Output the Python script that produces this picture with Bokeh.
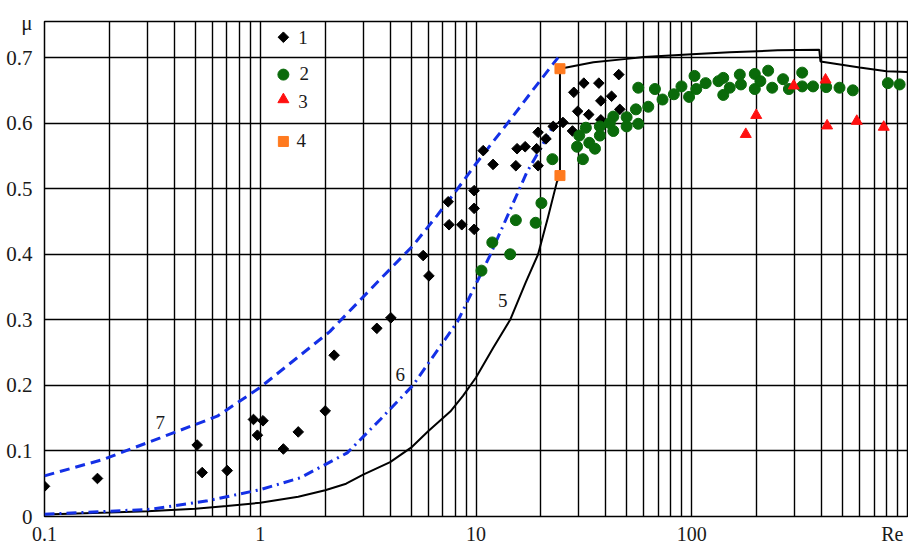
import numpy as np
from bokeh.plotting import figure
from bokeh.models import FixedTicker, NumeralTickFormatter
from bokeh.core.properties import value
from bokeh.embed import file_html
from bokeh.resources import INLINE

# ---------------- data ----------------
# series 1 (black diamonds)
s1_x = [0.1, 0.176, 0.51, 0.538, 0.703, 0.93, 1.03, 0.97, 1.28, 1.5, 2.0,
        2.2, 3.47, 4.03, 5.69, 6.05, 7.43, 7.5, 8.59, 9.8, 9.8, 9.8,
        10.8, 12.0, 15.5, 16.9, 19.1, 15.3, 19.4, 19.4, 21.1, 22.8, 25.3,
        28.0, 28.4, 31.6, 29.6, 33.3, 37.1, 45.9, 42.5, 37.9, 37.9, 46.4]
s1_y = [0.046, 0.058, 0.109, 0.067, 0.070, 0.148, 0.146, 0.124, 0.103, 0.129, 0.161,
        0.246, 0.287, 0.303, 0.398, 0.367, 0.480, 0.445, 0.445, 0.497, 0.470, 0.438,
        0.558, 0.537, 0.561, 0.564, 0.561, 0.535, 0.535, 0.586, 0.576, 0.595, 0.601,
        0.588, 0.647, 0.661, 0.618, 0.613, 0.661, 0.674, 0.641, 0.634, 0.605, 0.621]

# series 2 (green circles)
s2_x = [22.6, 31.3, 20.1, 15.3, 18.9, 11.9, 14.4, 10.6,
        29.4, 33.5, 35.6, 30.1, 32.3, 37.5, 37.5, 43.3, 43.3, 41.7, 49.9, 49.9,
        55.1, 56.5, 62.9, 56.5, 67.5, 73.2, 82.6, 89.6, 97.2, 105, 103, 116,
        133, 140, 140, 150, 167, 169, 196, 196, 208, 226, 236, 265, 282,
        325, 325, 365, 420, 484, 558, 811, 919]
s2_y = [0.545, 0.545, 0.478, 0.452, 0.448, 0.418, 0.400, 0.375,
        0.564, 0.570, 0.561, 0.581, 0.593, 0.581, 0.595, 0.588, 0.610, 0.600, 0.595, 0.609,
        0.621, 0.599, 0.625, 0.654, 0.652, 0.636, 0.644, 0.656, 0.640, 0.652, 0.672, 0.661,
        0.664, 0.669, 0.643, 0.654, 0.674, 0.659, 0.675, 0.652, 0.664, 0.680, 0.654, 0.667, 0.652,
        0.677, 0.656, 0.656, 0.655, 0.654, 0.650, 0.661, 0.659]

# series 3 (red triangles)
s3_x = [178, 199, 297, 417, 424, 582, 776]
s3_y = [0.583, 0.612, 0.657, 0.666, 0.596, 0.603, 0.594]

# series 4 (orange squares)
s4_x = [24.5, 24.5]
s4_y = [0.683, 0.520]

# curve 5 (black solid)
c5_x = [0.1, 0.2, 0.3, 0.5, 0.7, 1.0, 1.5, 2.0, 2.5, 3.0, 4.0, 5.0, 6.0, 7.6, 8.7,
        10.0, 12.0, 14.4, 17.0, 19.4, 21.5, 23.7, 24.5,
        24.5, 35, 50, 60, 100, 150, 250, 390, 395, 600, 800, 1000]
c5_y = [0.003, 0.006, 0.008, 0.012, 0.016, 0.021, 0.030, 0.040, 0.050, 0.064, 0.083, 0.105, 0.130, 0.160, 0.184,
        0.212, 0.257, 0.300, 0.357, 0.400, 0.455, 0.510, 0.520,
        0.683, 0.693, 0.698, 0.701, 0.705, 0.708, 0.711, 0.712, 0.694, 0.685, 0.679, 0.678]

# curve 6 (blue dash-dot)
c6_x = [0.1, 0.31, 0.57, 1.0, 1.53, 2.53, 3.6, 5.1, 8.2, 11.6, 17.2, 19.8, 22.7]
c6_y = [0.0035, 0.011, 0.024, 0.041, 0.059, 0.097, 0.148, 0.200, 0.297, 0.398, 0.525, 0.560, 0.595]

# curve 7 (blue dashed)
c7_x = [0.1, 0.187, 0.344, 0.632, 1.0, 2.1, 3.7, 5.1, 6.6, 8.1, 10.1, 14.8, 18.4, 24.0]
c7_y = [0.062, 0.087, 0.120, 0.153, 0.197, 0.282, 0.366, 0.413, 0.459, 0.497, 0.540, 0.610, 0.651, 0.700]

# curve labels
curve_lbl_x = [13.3, 4.45, 0.344]
curve_lbl_y = [0.329, 0.217, 0.143]
curve_lbl_t = ["5", "6", "7"]

# legend
leg_marker_x = 1.28
leg_marker_y = [0.731, 0.674, 0.636, 0.572]
leg_text_x = [1.58, 1.60, 1.58, 1.55]
leg_text_y = [0.731, 0.675, 0.633, 0.574]
leg_text = ["1", "2", "3", "4"]

# axes: tick values and labels (axis names sit on the axes' label rows)
x_tick_vals = [0.1, 1, 10, 100, 851]
x_tick_text = ["0.1", "1", "10", "100", "Re"]
y_tick_vals = [0, 0.1, 0.2, 0.3, 0.4, 0.5, 0.6, 0.7, 0.752]
y_tick_text = ["0", "0.1", "0.2", "0.3", "0.4", "0.5", "0.6", "0.7", "μ"]
x_grid = [m * 10.0 ** e for e in (-1, 0, 1, 2) for m in range(1, 10)] + [1000]
y_grid = [0.1, 0.2, 0.3, 0.4, 0.5, 0.6, 0.7]

BLUE = "#1430e6"
GREEN = "#0a6a0a"
RED = "#ff1010"
ORANGE = "#ff7a1f"
FONT = "Liberation Serif"
TXT = "#1a1a1a"
W, H = 908, 547

# ---------------- figure ----------------
p = figure(width=W, height=H, x_axis_type="log", x_range=(0.1, 1000), y_range=(0, 0.755),
           output_backend="svg", toolbar_location=None,
           min_border_left=44, min_border_right=1, min_border_top=21, min_border_bottom=28)
p.background_fill_color = "white"
p.border_fill_color = "white"
p.outline_line_color = "black"
p.outline_line_width = 1.5

p.xaxis.ticker = FixedTicker(ticks=x_tick_vals)
p.yaxis.ticker = FixedTicker(ticks=y_tick_vals)
p.xaxis.formatter = NumeralTickFormatter(format="0.[0]")
p.yaxis.formatter = NumeralTickFormatter(format="0.[0]")
p.xaxis.major_label_overrides = dict(zip(x_tick_vals, x_tick_text))
p.yaxis.major_label_overrides = dict(zip(y_tick_vals, y_tick_text))

for ax in (p.xaxis[0], p.yaxis[0]):
    ax.axis_line_color = None
    ax.major_tick_line_color = None
    ax.minor_tick_line_color = None
    ax.major_label_text_font = FONT
    ax.major_label_text_color = TXT
p.xaxis.major_label_text_font_size = "20px"
p.yaxis.major_label_text_font_size = "21px"
p.yaxis.major_label_standoff = 6
p.xaxis.major_label_standoff = 0

p.xgrid.ticker = FixedTicker(ticks=x_grid)
p.ygrid.ticker = FixedTicker(ticks=y_grid)
for g in (p.xgrid, p.ygrid):
    g.grid_line_color = "black"
    g.grid_line_width = 1.4
    g.grid_line_alpha = 1.0

# curves
p.line(c5_x, c5_y, line_color="black", line_width=2)
p.line(c6_x, c6_y, line_color=BLUE, line_width=3, line_dash="10 5 2 5")
p.line(c7_x, c7_y, line_color=BLUE, line_width=3, line_dash="10 6")

# markers
p.scatter(s1_x, s1_y, marker="square", angle=np.pi / 4, size=7.5, color="black")
p.scatter(s2_x, s2_y, marker="circle", size=11, color=GREEN)
p.scatter(s3_x, s3_y, marker="triangle", size=11, color=RED)
p.scatter(s4_x, s4_y, marker="square", size=10, color=ORANGE)

# curve labels
p.text(curve_lbl_x, curve_lbl_y, text=curve_lbl_t, text_font=value(FONT), text_font_size="19px",
       text_align="center", text_baseline="middle", text_color=TXT)

# legend (manual, as in reference)
p.scatter([leg_marker_x], [leg_marker_y[0]], marker="square", angle=np.pi / 4, size=7.5, color="black")
p.scatter([leg_marker_x], [leg_marker_y[1]], marker="circle", size=11, color=GREEN)
p.scatter([leg_marker_x], [leg_marker_y[2]], marker="triangle", size=11, color=RED)
p.scatter([leg_marker_x], [leg_marker_y[3]], marker="square", size=10, color=ORANGE)
p.text(leg_text_x, leg_text_y, text=leg_text, text_font=value(FONT), text_font_size="19px",
       text_align="center", text_baseline="middle", text_color=TXT)

open("out.html", "w").write(file_html(p, INLINE))
